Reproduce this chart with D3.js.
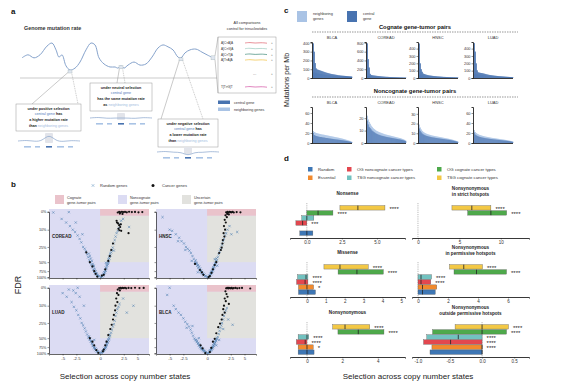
<!DOCTYPE html>
<html>
<head>
<meta charset="utf-8">
<script src="https://cdn.jsdelivr.net/npm/d3@7"></script>
<style>
  body { margin: 0; background: #fff; }
  svg { font-family: "Liberation Sans", Arial, sans-serif; }
</style>
</head>
<body>
<svg id="fig" width="570" height="384"></svg>
<script>
// ---------- panel a: schematic genome mutation rate
var genomePos = [0, 6, 12, 18, 25, 30, 34, 37, 40, 44, 48, 53, 58, 64, 69, 73, 77, 82, 88, 93, 96, 99, 102, 106, 112, 118, 124, 130, 136, 141, 146, 151, 156, 159, 163, 168, 174, 180, 185, 191]
var genomeRate = [0.53, 0.61, 0.53, 0.61, 0.84, 0.92, 0.74, 0.55, 0.61, 0.32, 0.21, 0.26, 0.42, 0.74, 0.92, 0.87, 0.53, 0.37, 0.29, 0.29, 0.26, 0.32, 0.26, 0.34, 0.42, 0.34, 0.37, 0.55, 0.79, 0.87, 0.82, 0.74, 0.55, 0.53, 0.66, 0.74, 0.76, 0.68, 0.61, 0.53]
var triLabels = ['A[C>A]A', 'A[C>G]A', 'A[C>T]A', 'A[T>A]A', 'T[T>G]T']
var triColors = ['#e0636e', '#9ccabf', '#3e8a78', '#f0c040', '#d24fa2']

// ---------- panel b: volcano facets  [selection, FDR]
var rndCOREAD = [[0.02,1],[-0.05,0.98],[0.07,0.96],[-0.1,0.94],[0.12,0.91],[-0.16,0.89],[0.17,0.86],[-0.22,0.84],[0.22,0.8],[-0.3,0.78],[0.28,0.74],[-0.38,0.71],[0.34,0.67],[-0.46,0.64],[0.4,0.6],[-0.55,0.58],[0.47,0.55],[-0.64,0.52],[0.55,0.5],[-0.75,0.47],[0.62,0.44],[-0.88,0.42],[0.7,0.39],[-1.0,0.37],[0.8,0.34],[-1.15,0.32],[0.88,0.3],[-1.3,0.28],[0.97,0.26],[-1.5,0.25],[1.08,0.22],[-1.75,0.21],[1.2,0.19],[-2.0,0.18],[1.32,0.16],[-2.3,0.15],[1.45,0.13],[-2.7,0.12],[1.6,0.11],[-3.1,0.1],[1.75,0.09],[-3.6,0.08],[1.9,0.07],[-4.3,0.06],[2.1,0.05],[-5.2,0.04],[2.4,0.04],[-7,0.004],[-3.8,0.002],[-2.6,0.06],[-1.6,0.14],[0.3,0.52],[-0.35,0.6],[1.1,0.31],[3.4,0.085],
  [0.03,0.99],[-0.02,0.95],[0.09,0.92],[-0.08,0.9],[0.14,0.87],[-0.14,0.83],[0.19,0.8],[-0.2,0.76],[0.24,0.73],[-0.27,0.69],[0.3,0.65],[-0.33,0.62],[0.36,0.58],[-0.42,0.55],[0.45,0.5],[-0.5,0.48],[0.52,0.45],[-0.6,0.44],[0.6,0.41],[-0.7,0.4],[0.68,0.36],[-0.8,0.36]]
var canCOREAD = [[1.6,0.004],[1.8,0.001],[2.0,0.003],[2.2,0.0],[2.4,0.002],[2.7,0.001],[3.0,0.003],[3.4,0.0],[3.9,0.002],[4.5,0.001],[5.2,0.003],[6.0,0.002],[1.9,0.01],[2.3,0.012],[1.5,0.06],[1.65,0.065],[1.8,0.075],[1.95,0.085],[2.05,0.07],[1.7,0.095],[1.85,0.105],[2.1,0.11],[1.45,0.05],[3.3,0.13],[1.0,0.22],[0.8,0.3],[0.5,0.48],[-0.3,0.75],[-0.7,0.5],[0.15,0.9],[-1.1,0.34],[0.65,0.4],[-0.1,0.97],[0.05,0.93],[-0.2,0.86],[0.25,0.7],[-0.45,0.62]]
var rndHNSC = [[0.0,1],[0.06,0.97],[-0.06,0.97],[0.11,0.93],[-0.13,0.92],[0.16,0.88],[-0.2,0.87],[0.2,0.83],[-0.28,0.82],[0.25,0.78],[-0.36,0.77],[0.3,0.73],[-0.45,0.72],[0.36,0.68],[-0.55,0.66],[0.42,0.63],[-0.66,0.6],[0.5,0.57],[-0.78,0.55],[0.58,0.52],[-0.9,0.5],[0.66,0.47],[-1.05,0.45],[0.75,0.42],[-1.2,0.4],[0.85,0.37],[-1.4,0.35],[0.95,0.33],[-1.6,0.31],[1.05,0.29],[-1.85,0.28],[1.15,0.26],[-2.1,0.25],[1.25,0.23],[-2.4,0.22],[1.38,0.2],[-2.8,0.2],[1.5,0.18],[-3.2,0.17],[1.65,0.15],[-3.8,0.14],[1.8,0.13],[-4.5,0.11],[2.0,0.1],[2.3,0.08],[-6.5,0.03],[-5,0.1],[-3.4,0.2],[-2.2,0.3],[-1.3,0.48],[0.7,0.6],[-0.6,0.8],[3.6,0.12],[2.6,0.14],[0.45,0.45],
  [0.02,0.98],[-0.03,0.94],[0.08,0.95],[-0.09,0.89],[0.13,0.85],[-0.16,0.84],[0.18,0.79],[-0.23,0.79],[0.22,0.75],[-0.3,0.74],[0.28,0.69],[-0.38,0.68],[0.33,0.64],[-0.48,0.62],[0.4,0.58],[-0.58,0.58],[0.47,0.53],[-0.7,0.52],[0.55,0.48],[-0.82,0.47],[0.62,0.44]]
var canHNSC = [[1.8,0.003],[2.0,0.001],[2.15,0.004],[2.3,0.0],[2.45,0.002],[2.6,0.003],[2.8,0.001],[3.0,0.004],[3.5,0.002],[4.2,0.003],[1.95,0.012],[2.2,0.015],[1.7,0.02],[1.9,0.03],[1.6,0.045],[1.75,0.06],[1.5,0.08],[1.65,0.1],[1.45,0.13],[1.55,0.16],[1.35,0.19],[1.3,0.22],[1.2,0.26],[1.1,0.3],[0.9,0.35],[0.6,0.5],[0.3,0.7],[-0.4,0.72],[-0.9,0.55],[0.1,0.95],[-0.15,0.9],[0.04,0.99],[-0.25,0.8],[0.2,0.82],[0.45,0.58]]
var rndLUAD = [[0.0,1],[0.05,0.98],[-0.05,0.96],[0.1,0.94],[-0.12,0.93],[0.15,0.9],[-0.18,0.88],[0.2,0.85],[-0.25,0.83],[0.26,0.8],[-0.33,0.78],[0.32,0.75],[-0.42,0.72],[0.38,0.69],[-0.5,0.66],[0.45,0.63],[-0.6,0.6],[0.52,0.57],[-0.72,0.55],[0.6,0.52],[-0.85,0.49],[0.68,0.46],[-1.0,0.44],[0.78,0.41],[-1.15,0.39],[0.88,0.36],[-1.3,0.34],[0.98,0.31],[-1.5,0.29],[1.1,0.27],[-1.7,0.25],[1.2,0.23],[-1.9,0.21],[1.3,0.19],[-2.2,0.18],[1.42,0.16],[-2.5,0.14],[1.55,0.13],[-2.9,0.11],[1.7,0.11],[-3.3,0.08],[1.85,0.09],[-2.0,0.05],[-2.6,0.03],[-3.0,0.015],[-3.8,0.01],[-2.3,0.0],[-5.0,0.03],[-4.2,0.05],[4.2,0.1],[3.0,0.16],[2.4,0.06],[-1.4,0.1],[0.4,0.6],[-0.3,0.55],
  [0.02,0.97],[-0.03,0.99],[0.07,0.91],[-0.08,0.92],[0.12,0.88],[-0.15,0.85],[0.17,0.82],[-0.21,0.8],[0.23,0.77],[-0.28,0.75],[0.29,0.71],[-0.37,0.7],[0.35,0.66],[-0.45,0.63],[0.42,0.6],[-0.55,0.58],[0.48,0.54],[-0.66,0.52],[0.56,0.49],[-0.78,0.47],[0.64,0.44]]
var canLUAD = [[1.8,0.002],[2.0,0.0],[2.1,0.003],[2.3,0.001],[2.5,0.002],[2.7,0.0],[2.9,0.003],[3.3,0.001],[3.8,0.002],[4.5,0.0],[5.4,0.002],[6.3,0.001],[1.6,0.01],[1.9,0.015],[1.5,0.03],[1.7,0.04],[1.4,0.06],[1.55,0.08],[1.3,0.1],[1.25,0.14],[1.1,0.18],[1.0,0.22],[0.85,0.28],[0.7,0.35],[0.5,0.45],[0.25,0.7],[-0.3,0.7],[-0.7,0.5],[0.1,0.92],[-0.05,0.98],[0.15,0.85],[-0.15,0.87],[0.35,0.6],[-0.45,0.6]]
var rndBLCA = [[0.0,1],[0.06,0.97],[-0.05,0.97],[0.1,0.93],[-0.11,0.93],[0.15,0.89],[-0.17,0.89],[0.2,0.85],[-0.24,0.85],[0.25,0.81],[-0.31,0.81],[0.3,0.77],[-0.4,0.76],[0.36,0.72],[-0.5,0.71],[0.42,0.67],[-0.6,0.66],[0.5,0.63],[-0.72,0.61],[0.58,0.58],[-0.85,0.56],[0.66,0.53],[-0.98,0.51],[0.75,0.48],[-1.12,0.46],[0.85,0.43],[-1.28,0.41],[0.95,0.38],[-1.45,0.36],[1.05,0.33],[-1.65,0.31],[1.15,0.29],[-1.9,0.27],[1.25,0.25],[-2.2,0.24],[1.38,0.22],[-2.5,0.21],[1.5,0.19],[-2.9,0.18],[1.62,0.16],[-3.3,0.16],[1.75,0.14],[-3.8,0.13],[1.9,0.12],[-5.0,0.0],[-5.5,0.04],[-4.2,0.1],[-2.0,0.33],[-1.2,0.3],[2.8,0.28],[1.4,0.35],[0.6,0.7],[-0.5,0.5],[2.1,0.22],[0.9,0.55],
  [0.03,0.99],[-0.02,0.95],[0.08,0.91],[-0.08,0.9],[0.13,0.87],[-0.14,0.86],[0.18,0.83],[-0.2,0.82],[0.22,0.79],[-0.28,0.78],[0.27,0.74],[-0.35,0.73],[0.33,0.7],[-0.45,0.68],[0.39,0.65],[-0.55,0.63],[0.46,0.6],[-0.66,0.58],[0.54,0.55],[-0.78,0.54],[0.62,0.5]]
var canBLCA = [[1.8,0.003],[1.95,0.001],[2.1,0.004],[2.2,0.0],[2.35,0.002],[2.5,0.003],[2.65,0.001],[2.8,0.004],[3.0,0.002],[3.3,0.001],[3.6,0.003],[4.0,0.002],[4.5,0.001],[6.2,0.004],[1.7,0.02],[1.85,0.035],[2.0,0.05],[1.6,0.06],[1.75,0.075],[2.2,0.09],[1.5,0.1],[1.4,0.13],[1.6,0.16],[1.3,0.18],[1.2,0.22],[1.0,0.26],[0.8,0.32],[0.6,0.42],[0.3,0.6],[-0.2,0.8],[0.1,0.95],[-0.05,0.99],[0.18,0.78],[-0.35,0.7],[0.45,0.52]]
var fdrTicks = [0, 0.1, 0.25, 0.5, 0.75, 1]
var selTicks = [-5, -2.5, 0, 2.5, 5]

// ---------- panel c: mutations per Mb, sorted
var cTumors = ['BLCA', 'COREAD', 'HNSC', 'LUAD']
var cogCentralBLCA = [395,300,170,110,98,94,90,86,82,78,74,70,66,62,59,56,53,50,47,45,43,41,39,37,35,33,31,30,28,27,26,25,24,23,22,21,20,19,18,17]
var cogNeighborBLCA = [60,70,55,60,50,52,48,45,46,42,40,38,36,35,33,31,30,28,27,26,25,24,23,22,21,20,19,18,18,17,16,16,15,15,14,14,13,13,12,12]
var cogCentralCOREAD = [790,430,240,95,70,64,60,57,54,51,48,46,43,41,38,36,34,32,30,28,27,26,24,23,22,21,20,19,18,17,16,15,14,13,12,12,11,10,10,9]
var cogNeighborCOREAD = [50,45,40,38,35,34,33,32,30,29,28,27,26,25,24,23,22,21,20,19,18,17,17,16,15,15,14,13,13,12,12,11,11,10,10,9,9,8,8,7]
var cogCentralHNSC = [470,200,120,85,62,55,50,46,42,39,36,34,32,30,28,26,25,24,22,21,20,19,18,17,16,15,15,14,13,13,12,11,11,10,10,9,9,8,8,7]
var cogNeighborHNSC = [40,45,38,36,34,32,30,29,28,27,26,25,24,23,22,21,20,19,18,17,17,16,15,15,14,13,13,12,12,11,11,10,10,9,9,8,8,7,7,6]
var cogCentralLUAD = [475,360,200,105,78,74,71,68,66,63,60,56,52,49,46,43,41,39,37,35,33,31,30,28,27,25,24,23,22,21,20,19,18,17,16,15,14,13,12,11]
var cogNeighborLUAD = [55,60,52,50,48,46,44,42,40,38,36,34,32,31,30,29,28,27,26,25,24,23,22,21,20,19,18,17,16,15,15,14,13,12,12,11,10,10,9,9]
var ncNeighborBLCA = [24,22,21,20,19.5,19,18.5,18,17.5,17,16.8,16.5,16,15.6,15.2,14.8,14.4,14,13.6,13.2,12.8,12.4,12,11.6,11.2,10.8,10.4,10,9.5,9,8.5,8,7.4,6.8,6.2,5.6,5,4.3,3.5,2.5]
var ncCentralBLCA = [20,16,15,14,13.5,13,12.5,12,12,11.5,11,11,10.5,10,10,9.6,9.2,9,8.7,8.4,8.1,7.8,7.5,7.2,7,6.8,6.5,6.2,5.9,5.6,5.3,5,4.7,4.3,4,3.6,3.2,2.8,2.3,1.8]
var ncNeighborCOREAD = [22,19,17,15.5,14,13,12,11.3,10.6,10,9.6,9.2,8.8,8.5,8.2,7.9,7.6,7.3,7,6.8,6.6,6.4,6.2,6,5.8,5.6,5.4,5.2,5,4.8,4.6,4.4,4.2,4,3.8,3.5,3.2,2.9,2.5,2]
var ncCentralCOREAD = [18,15,13,12,11,10,9.4,8.8,8.2,7.7,7.3,6.9,6.6,6.3,6,5.8,5.6,5.4,5.2,5,4.8,4.7,4.5,4.4,4.2,4.1,3.9,3.8,3.6,3.5,3.3,3.2,3,2.9,2.7,2.5,2.3,2.1,1.8,1.5]
var ncNeighborHNSC = [19,16,14,12.5,11.5,10.8,10.2,9.7,9.3,8.9,8.6,8.3,8,7.7,7.5,7.3,7.1,6.9,6.7,6.5,6.3,6.1,5.9,5.7,5.5,5.3,5.1,4.9,4.7,4.5,4.3,4.1,3.9,3.6,3.3,3,2.7,2.4,2,1.6]
var ncCentralHNSC = [15,12.5,11,9.8,9,8.4,7.9,7.5,7.2,6.9,6.6,6.4,6.1,5.9,5.7,5.6,5.4,5.2,5.1,4.9,4.8,4.6,4.5,4.3,4.2,4,3.9,3.7,3.6,3.4,3.3,3.1,2.9,2.7,2.5,2.3,2,1.8,1.5,1.2]
var ncNeighborLUAD = [26,22,20,18.5,17.5,16.5,15.8,15.2,14.6,14,13.5,13,12.6,12.2,11.8,11.4,11,10.6,10.3,10,9.7,9.4,9.1,8.8,8.5,8.2,7.9,7.6,7.3,7,6.7,6.4,6.1,5.8,5.4,5,4.6,4.1,3.6,3]
var ncCentralLUAD = [21,17,15.5,14.3,13.4,12.6,12,11.5,11,10.6,10.2,9.8,9.5,9.2,8.9,8.6,8.3,8,7.8,7.5,7.3,7.1,6.9,6.6,6.4,6.2,6,5.7,5.5,5.3,5,4.8,4.6,4.3,4.1,3.8,3.5,3.1,2.7,2.3]
var cogMax = [410, 820, 490, 490]
var cogTicks = [[0, 100, 200, 300, 400], [0, 200, 400, 600, 800], [0, 100, 200, 300, 400], [0, 100, 200, 300, 400]]
var ncMax = [72, 29, 37, 72]
var ncTicks = [[0, 20, 40, 60], [0, 10, 20], [0, 10, 20, 30], [0, 20, 40, 60]]

// ---------- panel d: selection boxes  [low, median, high] per group
var dGroups = ['TSG cognate cancer types', 'OG cognate cancer types', 'TSG noncognate cancer types', 'OG noncognate cancer types', 'Essential', 'Random']
var dColors = ['#f3c845', '#4ea94b', '#72c2c0', '#e3474f', '#f28a2d', '#3e77b5']
var dLegendOrder = ['Random', 'OG noncognate cancer types', 'OG cognate cancer types', 'Essential', 'TSG noncognate cancer types', 'TSG cognate cancer types']
var nonsenseBoxes = [[2.36, 3.64, 5.57], [0, 0.8, 1.86], [-0.36, 0, 0.5], [-0.78, -0.3, 0], null, [-0.5, 0, 0.43]]
var nonsenseStars = ['****', '****', '', '***', '', '']
var missenseBoxes = [[0.9, 1.75, 3.25], [1.65, 2.65, 4.05], [-0.5, -0.05, 0.05], [-0.55, -0.1, 0.05], [-0.45, 0, 0.35], [-0.45, 0.05, 0.45]]
var missenseStars = ['****', '****', '****', '****', '*', '']
var nonsynBoxes = [[1.45, 2.15, 3.55], [1.75, 2.9, 4.35], [-0.5, 0, 0.1], [-0.6, -0.1, 0], [-0.5, 0, 0.35], [-0.5, 0, 0.4]]
var nonsynStars = ['****', '****', '****', '****', '*', '']
var strictBoxes = [[4.1, 6.5, 8.8], [6.0, 8.8, 10.7], null, null, null, null]
var strictStars = ['****', '****', '', '', '', '']
var permissiveBoxes = [[2.1, 3.05, 4.3], [2.4, 3.9, 5.9], [0, 0.2, 0.9], [0, 0.2, 0.85], [0, 0.3, 1.25], [0, 0.3, 1.15]]
var permissiveStars = ['****', '****', '****', '****', '', '']
var outsideBoxes = [[-0.42, 0, 0.41], [-0.77, 0, 0.38], [-0.86, -0.37, 0], [-0.91, -0.49, 0], [-0.78, 0, 0], [-0.81, 0, 0]]
var outsideStars = ['****', '****', '****', '****', '****', '']

var svg = d3.select('#fig')
var font = '"Liberation Sans", Arial, sans-serif'
var darkBlue = '#4873b0'
var lightBlue = '#a9c3e5'

var styleAxis = function (sel, fs) {
  sel.attr('font-family', font).attr('font-size', fs)
  sel.select('.domain').attr('stroke', '#222').attr('stroke-width', 0.7)
  sel.selectAll('.tick line').attr('stroke', '#222').attr('stroke-width', 0.5)
  sel.selectAll('.tick text').attr('fill', '#333')
}

var panelLetters = [['a', 11, 14], ['b', 11, 187], ['c', 284, 13], ['d', 284, 161]]
panelLetters.forEach(d => {
  svg.append('text').attr('x', d[1]).attr('y', d[2]).attr('font-size', 8)
    .attr('font-weight', 'bold').attr('fill', '#111').text(d[0])
})

// ================= panel a =================
var ga = svg.append('g')
ga.append('text').attr('x', 24).attr('y', 30).attr('font-size', 5.4).attr('fill', '#333')
  .attr('font-weight', 'bold').text('Genome mutation rate')

var gx = d3.scaleLinear().domain([0, 191]).range([22, 213])
var gy = d3.scaleLinear().domain([0, 1]).range([78, 40])
var rateAt = p => genomeRate[genomePos.indexOf(p)]

ga.append('line').attr('x1', 20).attr('x2', 217).attr('y1', 78).attr('y2', 78)
  .attr('stroke', '#aaa').attr('stroke-width', 0.6)
ga.append('path').datum(d3.zip(genomePos, genomeRate))
  .attr('d', d3.line().x(d => gx(d[0])).y(d => gy(d[1])).curve(d3.curveCatmullRom))
  .attr('fill', 'none').attr('stroke', '#86a3cc').attr('stroke-width', 1)

var txtColor = { k: '#222', c: '#4f78b8', n: '#9fbbe0' }
var callouts = [
  { pos: 48, box: [16, 104, 65, 27], targets: [32, 78], bump: -7, mini: [49, 141],
    lines: [[['under positive selection', 'k']], [['central gene', 'c'], [' has', 'k']], [['a higher mutation rate', 'k']], [['than ', 'k'], ['neighboring genes', 'n']]] },
  { pos: 99, box: [90, 83, 62, 28], targets: [117, 125], bump: 0, mini: [121, 118],
    lines: [[['under neutral selection', 'k']], [['central gene', 'c']], [['has the same mutation rate', 'k']], [['as ', 'k'], ['neighboring genes', 'n']]] },
  { pos: 159, box: [158, 119, 60, 28], targets: [161, 203], bump: 4, mini: [188, 152],
    lines: [[['under negative selection', 'k']], [['central gene', 'c'], [' has', 'k']], [['a lower mutation rate', 'k']], [['than ', 'k'], ['neighboring genes', 'n']]] }
]

callouts.forEach(c => {
  var px = gx(c.pos)
  var py = gy(rateAt(c.pos)) + 2
  ga.append('line').attr('x1', px - 1.5).attr('y1', py).attr('x2', c.targets[0]).attr('y2', c.box[1])
    .attr('stroke', '#888').attr('stroke-width', 0.45)
  ga.append('line').attr('x1', px + 1.5).attr('y1', py).attr('x2', c.targets[1]).attr('y2', c.box[1])
    .attr('stroke', '#888').attr('stroke-width', 0.45).attr('stroke-dasharray', '1,0.8')
  ga.append('rect').attr('x', px - 2).attr('y', py - 2).attr('width', 4).attr('height', 3)
    .attr('fill', '#dfe6f0').attr('stroke', '#9aa').attr('stroke-width', 0.3)
  ga.append('rect').attr('x', c.box[0]).attr('y', c.box[1]).attr('width', c.box[2]).attr('height', c.box[3])
    .attr('fill', '#fff').attr('stroke', '#999').attr('stroke-width', 0.5)
  c.lines.forEach((ln, i) => {
    var t = ga.append('text').attr('x', c.box[0] + c.box[2] / 2).attr('y', c.box[1] + 5.6 + i * 5.8)
      .attr('text-anchor', 'middle').attr('font-size', 3.7)
    ln.forEach(s => t.append('tspan').attr('fill', txtColor[s[1]]).attr('font-weight', s[1] === 'k' ? 'bold' : 'normal').text(s[0]))
  })
  // mini diagram with the central gene and its neighbours
  var mx = c.mini[0], my = c.mini[1]
  ga.append('rect').attr('x', mx - 4).attr('y', my - (c.bump < 0 ? 8 : 5)).attr('width', 8).attr('height', c.bump < 0 ? 10 : 7)
    .attr('fill', '#e2e4ea').attr('rx', 1)
  var wave = [[-31, 0], [-22, -0.8], [-14, 0.5], [-7, 0], [0, c.bump], [7, 0], [14, 0.6], [22, -0.6], [31, 0]]
  ga.append('path').datum(wave)
    .attr('d', d3.line().x(d => mx + d[0]).y(d => my + d[1]).curve(d3.curveBasis))
    .attr('fill', 'none').attr('stroke', '#86a3cc').attr('stroke-width', 0.7)
  var genes = [[-25, -18, 0], [-14, -9, 0], [-3, 3, 1], [8, 15, 0], [19, 24, 0]]
  ga.selectAll(null).data(genes).join('rect')
    .attr('x', d => mx + d[0]).attr('y', my + 5).attr('width', d => d[1] - d[0]).attr('height', 1.6)
    .attr('fill', d => d[2] ? darkBlue : lightBlue)
})

// trinucleotide comparison box
var endX = gx(191), endY = gy(rateAt(191))
ga.append('rect').attr('x', endX - 2).attr('y', endY - 2).attr('width', 4).attr('height', 4)
  .attr('fill', '#dfe6f0').attr('stroke', '#9aa').attr('stroke-width', 0.3)
ga.append('line').attr('x1', endX + 2).attr('y1', endY - 2).attr('x2', 218).attr('y2', 37).attr('stroke', '#888').attr('stroke-width', 0.45)
ga.append('line').attr('x1', endX + 2).attr('y1', endY + 2).attr('x2', 218).attr('y2', 93).attr('stroke', '#888').attr('stroke-width', 0.45)
ga.append('rect').attr('x', 218).attr('y', 37).attr('width', 58).attr('height', 56)
  .attr('fill', 'none').attr('stroke', '#999').attr('stroke-width', 0.5)
ga.append('text').attr('x', 247).attr('y', 24).attr('text-anchor', 'middle').attr('font-size', 3.8).attr('fill', '#333').text('All comparisons')
ga.append('text').attr('x', 247).attr('y', 29.5).attr('text-anchor', 'middle').attr('font-size', 3.8).attr('fill', '#333').text('control for trinucleotides')
var squiggle = [[0, 0], [5, -0.7], [10, 0.3], [16, -0.5], [22, 0.2]]
triLabels.forEach((lab, i) => {
  var ry = i < 4 ? 43 + i * 5.7 : 87
  ga.append('text').attr('x', 221).attr('y', ry + 1.2).attr('font-size', 3.1).attr('fill', '#333').text(lab)
  ga.append('path').datum(squiggle)
    .attr('d', d3.line().x(d => 245 + d[0]).y(d => ry + d[1]).curve(d3.curveBasis))
    .attr('fill', 'none').attr('stroke', triColors[i]).attr('stroke-width', 0.7)
  ga.append('text').attr('x', 271).attr('y', ry + 1.2).attr('font-size', 3).attr('fill', '#666').text('+')
})
ga.append('text').attr('x', 253).attr('y', 75).attr('font-size', 4).attr('fill', '#555').text('...')
ga.append('text').attr('x', 271).attr('y', 75).attr('font-size', 3).attr('fill', '#666').text('+')
ga.append('rect').attr('x', 218).attr('y', 100.5).attr('width', 12).attr('height', 3.5).attr('fill', darkBlue)
ga.append('rect').attr('x', 218).attr('y', 107.5).attr('width', 12).attr('height', 3.5).attr('fill', lightBlue)
ga.append('text').attr('x', 234).attr('y', 103.5).attr('font-size', 3.7).attr('fill', '#333').text('central gene')
ga.append('text').attr('x', 234).attr('y', 110.5).attr('font-size', 3.7).attr('fill', '#333').text('neighboring genes')

// ================= panel b =================
var gb = svg.append('g')
gb.append('path').attr('d', 'M-1.3,-1.3L1.3,1.3M-1.3,1.3L1.3,-1.3').attr('transform', 'translate(93,185.5)')
  .attr('stroke', '#6f9cc4').attr('stroke-width', 0.6)
gb.append('text').attr('x', 100).attr('y', 187).attr('font-size', 4).attr('fill', '#333').text('Random genes')
gb.append('circle').attr('cx', 153).attr('cy', 185.5).attr('r', 1.5).attr('fill', '#111')
gb.append('text').attr('x', 162).attr('y', 187).attr('font-size', 4).attr('fill', '#333').text('Cancer genes')
var regionKeys = [['Cognate', '#eac3cb', 55], ['Noncognate', '#dcdcf3', 118], ['Uncertain', '#e2e2de', 182]]
regionKeys.forEach(k => {
  gb.append('rect').attr('x', k[2]).attr('y', 195).attr('width', 9).attr('height', 9).attr('fill', k[1])
  gb.append('text').attr('x', k[2] + 12).attr('y', 198.5).attr('font-size', 3.8).attr('fill', '#333').text(k[0])
  gb.append('text').attr('x', k[2] + 12).attr('y', 203.5).attr('font-size', 3.8).attr('fill', '#333').text('gene-tumor pairs')
})

var fw = 100, fh = 69
var facets = [
  { name: 'COREAD', rnd: rndCOREAD, can: canCOREAD, x0: 49, y0: 209, left: true, bottom: false },
  { name: 'HNSC', rnd: rndHNSC, can: canHNSC, x0: 156, y0: 209, left: false, bottom: false },
  { name: 'LUAD', rnd: rndLUAD, can: canLUAD, x0: 49, y0: 285, left: true, bottom: true },
  { name: 'BLCA', rnd: rndBLCA, can: canBLCA, x0: 156, y0: 285, left: false, bottom: true }
]
facets.forEach(f => {
  var g = gb.append('g')
  var xs = d3.scalePow().exponent(0.66).domain([-8, 7.5]).range([f.x0, f.x0 + fw])
  var ys = d3.scaleLinear().domain(fdrTicks).range([0.04, 0.3, 0.55, 0.77, 0.9, 0.99].map(v => f.y0 + v * fh))
  g.append('rect').attr('x', f.x0).attr('y', f.y0).attr('width', fw).attr('height', fh).attr('fill', '#dcdcf3')
  g.append('rect').attr('x', xs(0)).attr('y', ys(0.022)).attr('width', f.x0 + fw - xs(0)).attr('height', ys(0.5) - ys(0.022)).attr('fill', '#e2e2de')
  g.append('rect').attr('x', xs(0)).attr('y', f.y0).attr('width', f.x0 + fw - xs(0)).attr('height', ys(0.022) - f.y0).attr('fill', '#eac3cb')
  g.selectAll('path.rnd').data(f.rnd).join('path').attr('class', 'rnd')
    .attr('d', 'M-1.15,-1.15L1.15,1.15M-1.15,1.15L1.15,-1.15')
    .attr('transform', d => 'translate(' + xs(d[0]) + ',' + ys(d[1]) + ')')
    .attr('stroke', '#4d7fb0').attr('stroke-width', 0.55)
  g.selectAll('circle').data(f.can).join('circle')
    .attr('cx', d => xs(d[0])).attr('cy', d => ys(d[1])).attr('r', 1.1).attr('fill', '#111')
  var ay = g.append('g').attr('transform', 'translate(' + f.x0 + ',0)')
    .call(d3.axisLeft(ys).tickValues(fdrTicks).tickSize(1.5).tickPadding(1).tickFormat(f.left ? (d => Math.round(d * 100) + '%') : ''))
  styleAxis(ay, 3.8)
  var ax = g.append('g').attr('transform', 'translate(0,' + (f.y0 + fh) + ')')
    .call(d3.axisBottom(xs).tickValues(selTicks).tickSize(1.5).tickPadding(1.5).tickFormat(f.bottom ? (d => String(d)) : ''))
  styleAxis(ax, 4.3)
  g.append('text').attr('x', f.x0 + 3).attr('y', f.y0 + 29).attr('font-size', 4.5).attr('font-weight', 'bold')
    .attr('fill', '#222').text(f.name)
})
gb.append('text').attr('transform', 'translate(21,285) rotate(-90)').attr('text-anchor', 'middle')
  .attr('font-size', 9).attr('fill', '#222').text('FDR')
gb.append('text').attr('x', 125).attr('y', 379).attr('text-anchor', 'middle')
  .attr('font-size', 8).attr('fill', '#222').text('Selection across copy number states')

// ================= panel c =================
var gc = svg.append('g')
gc.append('rect').attr('x', 297).attr('y', 11).attr('width', 10).attr('height', 11).attr('fill', lightBlue)
gc.append('text').attr('x', 313).attr('y', 15).attr('font-size', 3.8).attr('fill', '#333').text('neighboring')
gc.append('text').attr('x', 313).attr('y', 20).attr('font-size', 3.8).attr('fill', '#333').text('genes')
gc.append('rect').attr('x', 347).attr('y', 11).attr('width', 10).attr('height', 11).attr('fill', darkBlue)
gc.append('text').attr('x', 363).attr('y', 15).attr('font-size', 3.8).attr('fill', '#333').text('central')
gc.append('text').attr('x', 363).attr('y', 20).attr('font-size', 3.8).attr('fill', '#333').text('gene')

var sectionTitles = [['Cognate gene-tumor pairs', 29, 32], ['Noncognate gene-tumor pairs', 93, 97]]
sectionTitles.forEach(s => {
  gc.append('text').attr('x', 415).attr('y', s[1]).attr('text-anchor', 'middle').attr('font-size', 5.8)
    .attr('font-weight', 'bold').attr('fill', '#111').text(s[0])
  gc.append('line').attr('x1', 312).attr('x2', 518).attr('y1', s[2]).attr('y2', s[2])
    .attr('stroke', '#555').attr('stroke-width', 0.6).attr('stroke-dasharray', '1.5,1')
})

var cogCentral = [cogCentralBLCA, cogCentralCOREAD, cogCentralHNSC, cogCentralLUAD]
var cogNeighbor = [cogNeighborBLCA, cogNeighborCOREAD, cogNeighborHNSC, cogNeighborLUAD]
var ncCentral = [ncCentralBLCA, ncCentralCOREAD, ncCentralHNSC, ncCentralLUAD]
var ncNeighbor = [ncNeighborBLCA, ncNeighborCOREAD, ncNeighborHNSC, ncNeighborLUAD]
var cX = [312, 366, 418, 473]

var drawBars = function (cen, nei, yMax, ticks, x0, top, bot, cenOpacity) {
  var g = gc.append('g')
  var x = d3.scaleBand().domain(d3.range(cen.length)).range([x0 + 0.6, x0 + 40])
  var y = d3.scaleLinear().domain([0, yMax]).range([bot, top])
  g.append('g').selectAll('rect').data(nei).join('rect')
    .attr('x', (d, i) => x(i)).attr('width', x.bandwidth() + 0.25)
    .attr('y', d => y(d)).attr('height', d => bot - y(d)).attr('fill', lightBlue)
  g.append('g').selectAll('rect').data(cen).join('rect')
    .attr('x', (d, i) => x(i)).attr('width', x.bandwidth() + 0.25)
    .attr('y', d => y(d)).attr('height', d => bot - y(d)).attr('fill', darkBlue).attr('fill-opacity', cenOpacity)
  var ay = g.append('g').attr('transform', 'translate(' + x0 + ',0)')
    .call(d3.axisLeft(y).tickValues(ticks).tickSize(1.5).tickPadding(1))
  styleAxis(ay, 3.9)
  ay.select('.domain').attr('stroke-width', 0.9)
  g.append('line').attr('x1', x0).attr('x2', x0 + 40).attr('y1', bot + 0.5).attr('y2', bot + 0.5)
    .attr('stroke', '#222').attr('stroke-width', 0.9)
}

cTumors.forEach((t, i) => {
  gc.append('text').attr('x', cX[i] + 20).attr('y', 38.5).attr('text-anchor', 'middle').attr('font-size', 4).attr('fill', '#333').text(t)
  gc.append('text').attr('x', cX[i] + 20).attr('y', 103.5).attr('text-anchor', 'middle').attr('font-size', 4).attr('fill', '#333').text(t)
  drawBars(cogCentral[i], cogNeighbor[i], cogMax[i], cogTicks[i], cX[i], 42, 78, 1)
  drawBars(ncCentral[i], ncNeighbor[i], ncMax[i], ncTicks[i], cX[i], 107, 143, 0.7)
})
gc.append('text').attr('transform', 'translate(289,80) rotate(-90)').attr('text-anchor', 'middle')
  .attr('font-size', 7).attr('fill', '#222').text('Mutations per Mb')

// ================= panel d =================
var gd = svg.append('g')
var colorOf = d3.scaleOrdinal().domain(dGroups).range(dColors)
dLegendOrder.forEach((name, i) => {
  var lx = [308, 347, 437][i % 3]
  var ly = i < 3 ? 167 : 175.5
  gd.append('rect').attr('x', lx).attr('y', ly).attr('width', 4.5).attr('height', 4.5).attr('fill', colorOf(name))
  gd.append('text').attr('x', lx + 10).attr('y', ly + 3.8).attr('font-size', 4.3).attr('fill', '#333').text(name)
})

var dPlots = [
  { title: ['Nonsense'], boxes: nonsenseBoxes, stars: nonsenseStars, domain: [-1.2, 7.0], ticks: [0, 2.5, 5], dec: 1, col: 0, axisY: 238 },
  { title: ['Missense'], boxes: missenseBoxes, stars: missenseStars, domain: [-0.9, 5.2], ticks: [0, 1, 2, 3, 4, 5], dec: 0, col: 0, axisY: 297 },
  { title: ['Nonsynonymous'], boxes: nonsynBoxes, stars: nonsynStars, domain: [-0.96, 5.54], ticks: [0, 2, 4], dec: 0, col: 0, axisY: 357 },
  { title: ['Nonsynonymous', 'in strict hotspots'], boxes: strictBoxes, stars: strictStars, domain: [-0.72, 13.4], ticks: [0, 5, 10], dec: 0, col: 1, axisY: 238 },
  { title: ['Nonsynonymous', 'in permissive hotspots'], boxes: permissiveBoxes, stars: permissiveStars, domain: [-0.4, 7.4], ticks: [0, 2, 4, 6], dec: 0, col: 1, axisY: 297 },
  { title: ['Nonsynonymous', 'outside permissive hotspots'], boxes: outsideBoxes, stars: outsideStars, domain: [-1.09, 0.73], ticks: [-1, -0.5, 0, 0.5], dec: 1, col: 1, axisY: 357 }
]
var colRange = [[290, 405], [412, 529]]

dPlots.forEach(p => {
  var g = gd.append('g')
  var r = colRange[p.col]
  var x = d3.scaleLinear().domain(p.domain).range(r)
  var y = d3.scaleBand().domain(dGroups).range([p.axisY - 33, p.axisY - 2]).padding(0.12)
  var cx = (r[0] + r[1]) / 2
  p.title.forEach((t, i) => {
    var ty = p.title.length === 1 ? p.axisY - 43.5 : p.axisY - 48 + i * 5.6
    g.append('text').attr('x', cx).attr('y', ty).attr('text-anchor', 'middle').attr('font-size', 4.6)
      .attr('font-weight', 'bold').attr('fill', '#222').text(t)
  })
  g.append('line').attr('x1', x(0)).attr('x2', x(0)).attr('y1', p.axisY - 35).attr('y2', p.axisY)
    .attr('stroke', '#777').attr('stroke-width', 0.5).attr('stroke-dasharray', '1.2,1')
  var rows = dGroups.map((grp, i) => ({ grp: grp, box: p.boxes[i], star: p.stars[i] })).filter(d => d.box)
  g.selectAll('rect').data(rows).join('rect')
    .attr('x', d => x(d.box[0])).attr('width', d => Math.max(0.4, x(d.box[2]) - x(d.box[0])))
    .attr('y', d => y(d.grp)).attr('height', y.bandwidth())
    .attr('fill', d => colorOf(d.grp)).attr('stroke', '#555').attr('stroke-width', 0.35)
  g.selectAll('line.med').data(rows).join('line').attr('class', 'med')
    .attr('x1', d => x(d.box[1])).attr('x2', d => x(d.box[1]))
    .attr('y1', d => y(d.grp)).attr('y2', d => y(d.grp) + y.bandwidth())
    .attr('stroke', '#222').attr('stroke-width', 0.8)
  g.selectAll('text.star').data(rows.filter(d => d.star)).join('text').attr('class', 'star')
    .attr('x', d => x(d.box[2]) + 4.5).attr('y', d => y(d.grp) + y.bandwidth() / 2 + 3.4)
    .attr('font-size', 6).attr('fill', '#222').text(d => d.star)
  var ax = g.append('g').attr('transform', 'translate(0,' + p.axisY + ')')
    .call(d3.axisBottom(x).tickValues(p.ticks).tickSize(1.5).tickPadding(1.5).tickFormat(d => d.toFixed(p.dec)))
  styleAxis(ax, 4.5)
  ax.select('.domain').attr('stroke-width', 0.9)
})
gd.append('text').attr('x', 408).attr('y', 379).attr('text-anchor', 'middle')
  .attr('font-size', 8).attr('fill', '#222').text('Selection across copy number states')
</script>
</body>
</html>
